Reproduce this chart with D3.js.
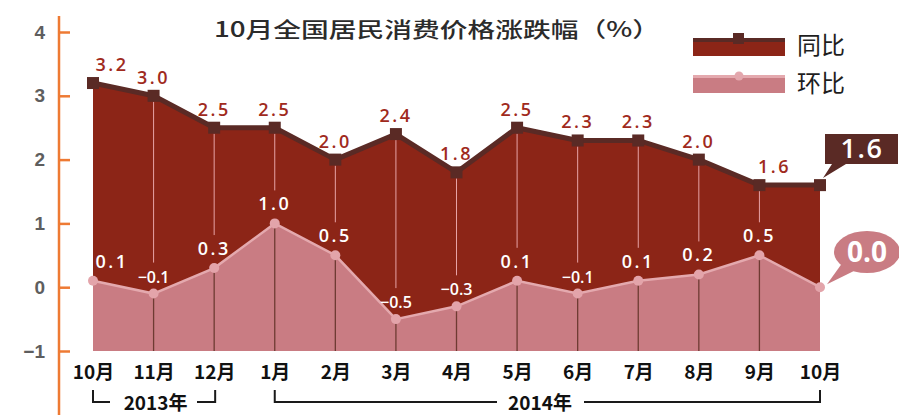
<!DOCTYPE html>
<html><head><meta charset="utf-8">
<script src="https://cdn.jsdelivr.net/npm/d3@7/dist/d3.min.js"></script>
<style>
html,body{margin:0;padding:0;background:#fff;}
svg{display:block;}
</style></head>
<body>
<svg id="c" width="899" height="415"></svg>
<script>
const months = ["10月","11月","12月","1月","2月","3月","4月","5月","6月","7月","8月","9月","10月"];
const yoy = [3.2,3.0,2.5,2.5,2.0,2.4,1.8,2.5,2.3,2.3,2.0,1.6,1.6];
const mom = [0.1,-0.1,0.3,1.0,0.5,-0.5,-0.3,0.1,-0.1,0.1,0.2,0.5,0.0];
const yTicks = [-1,0,1,2,3,4];
const seriesNames = ["同比","环比"];
const title = "10月全国居民消费价格涨跌幅（%）";
const years = ["2013年","2014年"];

const C = {red:"#8c2517", pink:"#c97c83", dark:"#5a2a25", pinkLine:"#e4a9ae",
           orange:"#ee7a33", redText:"#a02a1d"};

const svg = d3.select("#c");
const x = d3.scalePoint().domain(d3.range(months.length)).range([93, 820]);
const y = d3.scaleLinear().domain([-1,4]).range([351, 32]);
const fmt = d3.format(".1f");
const fmtLbl = v => v < 0 ? "−" + fmt(-v) : fmt(v);

// areas
svg.append("path").datum(yoy)
  .attr("d", d3.area().x((d,i)=>x(i)).y0(y(-1)).y1(d=>y(d)))
  .attr("fill", C.red);
svg.append("path").datum(mom)
  .attr("d", d3.area().x((d,i)=>x(i)).y0(y(-1)).y1(d=>y(d)))
  .attr("fill", C.pink);

// vertical guide lines
const momLblY = i => y(mom[i]) - (mom[i] < 0 ? 11 : 13);
const inner = d3.range(1, months.length-1);
svg.append("g").selectAll("line").data(inner).join("line")
  .attr("x1", i=>x(i)).attr("x2", i=>x(i))
  .attr("y1", i=>y(yoy[i])+6).attr("y2", i=>momLblY(i)-20)
  .attr("stroke", "#e6a3a6").attr("stroke-width", 1);
svg.append("g").selectAll("line").data(inner).join("line")
  .attr("x1", i=>x(i)).attr("x2", i=>x(i))
  .attr("y1", i=>y(mom[i])+4).attr("y2", y(-1))
  .attr("stroke", "#6e3b32").attr("stroke-width", 1.3);

// lines
svg.append("path").datum(yoy)
  .attr("d", d3.line().x((d,i)=>x(i)).y(d=>y(d)))
  .attr("fill","none").attr("stroke",C.dark).attr("stroke-width",5).attr("stroke-linejoin","round");
svg.append("path").datum(mom)
  .attr("d", d3.line().x((d,i)=>x(i)).y(d=>y(d)))
  .attr("fill","none").attr("stroke",C.pinkLine).attr("stroke-width",2.5);

// markers
svg.append("g").selectAll("rect").data(yoy).join("rect")
  .attr("x",(d,i)=>x(i)-6).attr("y",d=>y(d)-6).attr("width",12).attr("height",12)
  .attr("fill",C.dark);
svg.append("g").selectAll("circle").data(mom).join("circle")
  .attr("cx",(d,i)=>x(i)).attr("cy",d=>y(d)).attr("r",5)
  .attr("fill","#e3a4aa");

// value labels
const yoyDx = {0:19, 11:15};
const momDx = {0:19};
svg.append("g").selectAll("text").data(yoy.slice(0, yoy.length-1)).join("text")
  .attr("x",(d,i)=>x(i)+(yoyDx[i]||0)).attr("y",d=>y(d)-12)
  .attr("text-anchor","middle").attr("fill",C.redText)
  .attr("font-family","Open Sans").attr("font-weight",600).attr("font-size",18).attr("letter-spacing",2.5)
  .text(d=>fmtLbl(d));
svg.append("g").selectAll("text").data(mom.slice(0, mom.length-1)).join("text")
  .attr("x",(d,i)=>x(i)+(momDx[i]||0)).attr("y",(d,i)=>momLblY(i))
  .attr("text-anchor","middle").attr("fill","#fff")
  .attr("font-family","Open Sans").attr("font-weight",600)
  .attr("font-size",d=>d<0?16:18).attr("letter-spacing",d=>d<0?0:2.5)
  .text(d=>fmtLbl(d));

// callouts for latest values
const last = months.length-1;
svg.append("path")
  .attr("d", `M825,134 H898 V164 H846 L${x(last)+3},${y(yoy[last])-7} L832,164 H825 Z`)
  .attr("fill", C.dark);
svg.append("text").attr("x",862).attr("y",158).attr("text-anchor","middle")
  .attr("fill","#fff").attr("font-family","Open Sans").attr("font-weight",600).attr("font-size",27).attr("letter-spacing",1.5)
  .text(fmtLbl(yoy[last]));
svg.append("ellipse").attr("cx",867).attr("cy",252).attr("rx",33).attr("ry",21).attr("fill",C.pink);
svg.append("path")
  .attr("d", `M843,262 L858,269 L${x(last)+7},${y(mom[last])-3} Z`).attr("fill", C.pink);
svg.append("text").attr("x",867).attr("y",262).attr("text-anchor","middle")
  .attr("fill","#fff").attr("font-family","Open Sans").attr("font-weight","bold").attr("font-size",28)
  .text(fmtLbl(mom[last]));

// y axis
const yAxis = d3.axisLeft(y).tickValues(yTicks).tickSizeInner(-11).tickSizeOuter(0).tickPadding(14)
  .tickFormat(d=>d<0 ? "−"+(-d) : d);
const gy = svg.append("g").attr("transform","translate(59,0)").call(yAxis);
gy.select(".domain").remove();
gy.selectAll(".tick line").attr("stroke",C.orange).attr("stroke-width",2.5);
gy.selectAll(".tick text").attr("fill","#5e5e5e").attr("font-family","Liberation Sans")
  .attr("font-weight","bold").attr("font-size",19);
svg.append("line").attr("x1",59).attr("x2",59).attr("y1",16).attr("y2",415)
  .attr("stroke",C.orange).attr("stroke-width",2.5);

// x axis
const xAxis = d3.axisBottom(x).tickSize(0).tickPadding(0).tickFormat(i=>months[i]);
const gx = svg.append("g").attr("transform","translate(0,362)").call(xAxis);
gx.select(".domain").remove();
gx.selectAll(".tick text").attr("dy","0.9em").attr("fill","#111")
  .attr("font-family","Noto Sans CJK SC").attr("font-weight","bold").attr("font-size",19);

// year brackets
const br = svg.append("g").attr("stroke","#1a1a1a").attr("stroke-width",2).attr("fill","none");
br.append("path").attr("d",`M${x(0)},390 V402 H110`);
br.append("path").attr("d",`M197,402 H${x(2)+1} V390`);
br.append("path").attr("d",`M${x(3)},390 V402 H497`);
br.append("path").attr("d",`M584,402 H${x(last)} V390`);
svg.append("text").attr("x",(x(0)+x(2))/2+2).attr("y",410).attr("text-anchor","middle")
  .attr("font-family","Noto Sans CJK SC").attr("font-weight","bold").attr("font-size",19).attr("fill","#111")
  .text(years[0]);
svg.append("text").attr("x",540).attr("y",410).attr("text-anchor","middle")
  .attr("font-family","Noto Sans CJK SC").attr("font-weight","bold").attr("font-size",19).attr("fill","#111")
  .text(years[1]);

// title
svg.append("text").attr("x",214).attr("y",37)
  .attr("font-family","Noto Sans CJK SC").attr("font-size",21).attr("font-weight",500).attr("fill","#2b2b2b")
  .attr("textLength",446).attr("lengthAdjust","spacingAndGlyphs")
  .text(title);

// legend
const lg = svg.append("g");
lg.append("rect").attr("x",693).attr("y",38).attr("width",92).attr("height",18).attr("fill",C.red);
lg.append("rect").attr("x",693).attr("y",38).attr("width",92).attr("height",4).attr("fill",C.dark);
lg.append("rect").attr("x",733).attr("y",33).attr("width",11).attr("height",11).attr("fill",C.dark);
lg.append("rect").attr("x",693).attr("y",75).attr("width",92).attr("height",18).attr("fill",C.pink);
lg.append("rect").attr("x",693).attr("y",75).attr("width",92).attr("height",3).attr("fill",C.pinkLine);
lg.append("circle").attr("cx",739).attr("cy",76).attr("r",4.5).attr("fill","#e3a7ad");
lg.selectAll("text").data(seriesNames).join("text")
  .attr("x",797).attr("y",(d,i)=>54+i*38)
  .attr("font-family","Noto Sans CJK SC").attr("font-size",24).attr("fill","#1e1e1e")
  .text(d=>d);
</script>
</body></html>
